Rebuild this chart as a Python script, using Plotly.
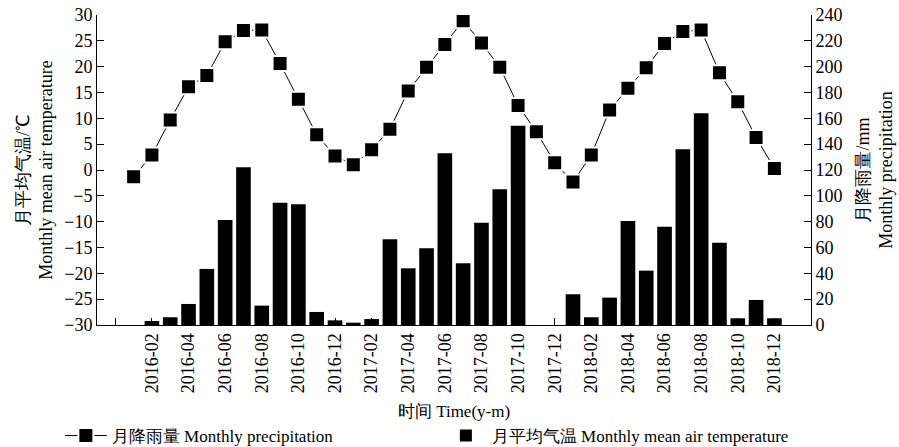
import plotly.graph_objects as go

months = [f"{y}-{m:02d}" for y in (2016, 2017, 2018) for m in range(1, 13)]

temperature = [-1.3, 2.9, 9.7, 16.1, 18.3, 24.8, 27.0, 27.1, 20.6, 13.7, 6.8, 2.7,
               1.0, 3.9, 7.9, 15.3, 19.9, 24.3, 28.9, 24.6, 19.9, 12.5, 7.4, 1.4,
               -2.3, 2.9, 11.6, 15.8, 19.8, 24.5, 26.8, 27.1, 18.8, 13.2, 6.3, 0.3]

precipitation = [0, 3.1, 6.0, 16.3, 43.4, 81.3, 122.1, 15.0, 94.7, 93.4, 10.1, 3.6,
                 1.8, 4.6, 66.3, 43.9, 59.4, 132.9, 47.8, 79.2, 105.1, 154.3, 0, 0,
                 23.8, 6.0, 21.2, 80.5, 42.1, 76.1, 136.0, 163.9, 63.7, 5.2, 19.4, 5.2]

left_ticks = list(range(-30, 31, 5))
right_ticks = list(range(0, 241, 20))

idx = list(range(len(months)))
x_tickvals = [-1] + [i for i in idx if i % 2 == 1]
x_ticktext = [""] + [months[i] for i in idx if i % 2 == 1]

FONT = "'Liberation Serif', 'Times New Roman', serif"

fig = go.Figure()
fig.add_trace(go.Bar(
    x=idx, y=precipitation, yaxis="y", width=0.8,
    marker=dict(color="black", line=dict(width=0)),
    name="月平均气温 Monthly mean air temperature", legendrank=2,
))
fig.add_trace(go.Scatter(
    x=idx, y=temperature, yaxis="y2", mode="lines+markers",
    line=dict(color="black", width=1),
    marker=dict(symbol="square", size=15, color="black", line=dict(color="white", width=2)),
    name="月降雨量 Monthly precipitation", legendrank=1,
))

fig.update_layout(
    width=899, height=447,
    margin=dict(l=97, r=88, t=15, b=122, autoexpand=False),
    paper_bgcolor="white", plot_bgcolor="white",
    font=dict(family=FONT, size=16, color="black"),
    showlegend=True,
    xaxis=dict(
        range=[-2, 37], tickmode="array", tickvals=x_tickvals, ticktext=x_ticktext,
        tickangle=-90, ticks="inside", ticklen=7, tickcolor="black",
        showline=True, linecolor="black", linewidth=1, showgrid=False, zeroline=False,
        tickfont=dict(size=18),
        title=dict(text="时间 Time(y-m)", font=dict(size=17), standoff=12),
    ),
    yaxis=dict(
        side="right", range=[0, 240], tickvals=right_ticks,
        ticks="inside", ticklen=7, tickcolor="black",
        showline=True, linecolor="black", linewidth=1, showgrid=False, zeroline=False,
        tickfont=dict(size=18),
        title=dict(text="月降雨量/mm<br>Monthly precipitation", font=dict(size=18), standoff=14),
    ),
    yaxis2=dict(
        side="left", overlaying="y", range=[-30, 30], tickvals=left_ticks,
        ticks="inside", ticklen=7, tickcolor="black",
        showline=True, linecolor="black", linewidth=1, showgrid=False, zeroline=False,
        tickfont=dict(size=18),
        title=dict(text="月平均气温/℃<br>Monthly mean air temperature", font=dict(size=18), standoff=6),
    ),
    legend=dict(
        orientation="h", x=-0.052, y=-0.30, xanchor="left", yanchor="top",
        font=dict(size=17), entrywidth=323, entrywidthmode="pixels",
        itemwidth=42, bgcolor="rgba(0,0,0,0)",
    ),
)

fig.write_html("out.html")
